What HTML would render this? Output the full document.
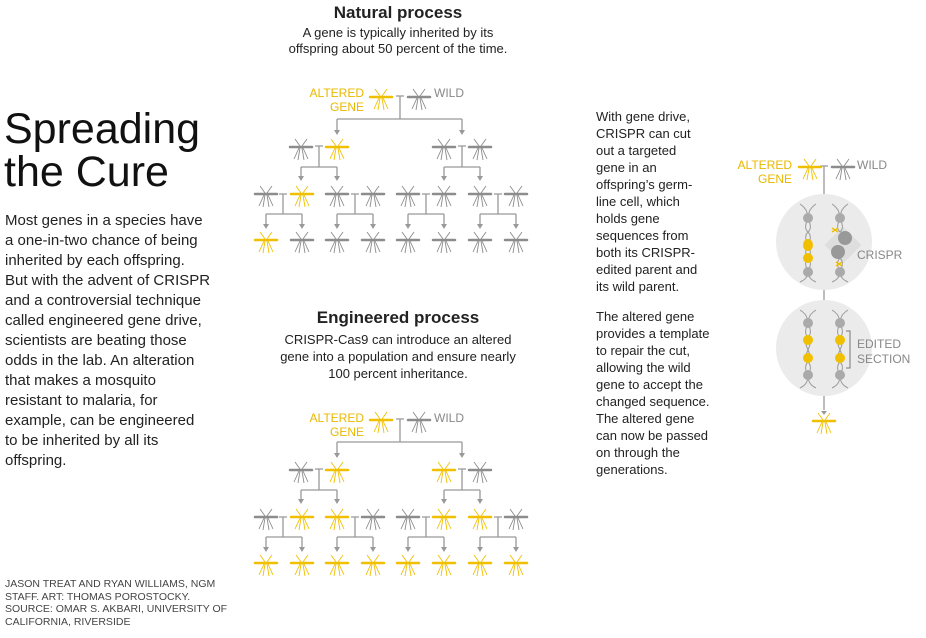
<!DOCTYPE html>
<html><head><meta charset="utf-8"><style>
html,body{margin:0;padding:0;background:#fff;}
body{width:926px;height:638px;overflow:hidden;position:relative;font-family:"Liberation Sans",sans-serif;color:#222;}
.t{position:absolute;}
</style></head><body>
<svg width="926" height="638" style="position:absolute;left:0;top:0" font-family="Liberation Sans, sans-serif">
<defs>
<g id="m">
 <path d="M-11 -1 L11 -1" stroke-width="2.5" stroke-linecap="round"/>
 <path d="M-1 -2 L-6 -9 M1 -2 L6 -9 M-2 0 L-7 11 M2 0 L7 11 M-1 0 L-3 12 M1 0 L3 12" stroke-width="0.9" fill="none"/>
</g>
<g id="g"><use href="#m" stroke="#8c8c8c"/></g>
<g id="y"><use href="#m" stroke="#f0c000"/></g>
</defs>

<!-- Natural tree -->
<g stroke="#999" stroke-width="1.3" fill="none">
 <path d="M396 96 H404 M400 96 V119 M337 119 H462 M337 119 V132 M462 119 V132"/>
 <path d="M315 146 H323 M319 146 V167 M301 167 H337 M301 167 V178 M337 167 V178"/>
 <path d="M458 146 H466 M462 146 V167 M444 167 H480 M444 167 V178 M480 167 V178"/>
 <path d="M279 194 H287 M283 194 V214 M266 214 H302 M266 214 V226 M302 214 V226"/>
 <path d="M351 194 H359 M355 194 V214 M337 214 H373 M337 214 V226 M373 214 V226"/>
 <path d="M422 194 H430 M426 194 V214 M408 214 H444 M408 214 V226 M444 214 V226"/>
 <path d="M494 194 H502 M498 194 V214 M480 214 H516 M480 214 V226 M516 214 V226"/>
</g>
<use href="#y" x="381" y="98"/><use href="#g" x="419" y="98"/>
<use href="#g" x="301" y="148"/><use href="#y" x="337" y="148"/><use href="#g" x="444" y="148"/><use href="#g" x="480" y="148"/>
<use href="#g" x="266" y="195"/><use href="#y" x="302" y="195"/><use href="#g" x="337" y="195"/><use href="#g" x="373" y="195"/><use href="#g" x="408" y="195"/><use href="#g" x="444" y="195"/><use href="#g" x="480" y="195"/><use href="#g" x="516" y="195"/>
<use href="#y" x="266" y="241"/><use href="#g" x="302" y="241"/><use href="#g" x="337" y="241"/><use href="#g" x="373" y="241"/><use href="#g" x="408" y="241"/><use href="#g" x="444" y="241"/><use href="#g" x="480" y="241"/><use href="#g" x="516" y="241"/>

<!-- Engineered tree -->
<g transform="translate(0,323)">
<g stroke="#999" stroke-width="1.3" fill="none">
 <path d="M396 96 H404 M400 96 V119 M337 119 H462 M337 119 V132 M462 119 V132"/>
 <path d="M315 146 H323 M319 146 V167 M301 167 H337 M301 167 V178 M337 167 V178"/>
 <path d="M458 146 H466 M462 146 V167 M444 167 H480 M444 167 V178 M480 167 V178"/>
 <path d="M279 194 H287 M283 194 V214 M266 214 H302 M266 214 V226 M302 214 V226"/>
 <path d="M351 194 H359 M355 194 V214 M337 214 H373 M337 214 V226 M373 214 V226"/>
 <path d="M422 194 H430 M426 194 V214 M408 214 H444 M408 214 V226 M444 214 V226"/>
 <path d="M494 194 H502 M498 194 V214 M480 214 H516 M480 214 V226 M516 214 V226"/>
</g>
<use href="#y" x="381" y="98"/><use href="#g" x="419" y="98"/>
<use href="#g" x="301" y="148"/><use href="#y" x="337" y="148"/><use href="#y" x="444" y="148"/><use href="#g" x="480" y="148"/>
<use href="#g" x="266" y="195"/><use href="#y" x="302" y="195"/><use href="#y" x="337" y="195"/><use href="#g" x="373" y="195"/><use href="#g" x="408" y="195"/><use href="#y" x="444" y="195"/><use href="#y" x="480" y="195"/><use href="#g" x="516" y="195"/>
<use href="#y" x="266" y="241"/><use href="#y" x="302" y="241"/><use href="#y" x="337" y="241"/><use href="#y" x="373" y="241"/><use href="#y" x="408" y="241"/><use href="#y" x="444" y="241"/><use href="#y" x="480" y="241"/><use href="#y" x="516" y="241"/>
</g>

<!-- arrowheads for trees -->
<g fill="#999">
<path d="M334 130 L337 135 L340 130z M459 130 L462 135 L465 130z M298 176 L301 181 L304 176z M334 176 L337 181 L340 176z M441 176 L444 181 L447 176z M477 176 L480 181 L483 176z M263 224 L266 229 L269 224z M299 224 L302 229 L305 224z M334 224 L337 229 L340 224z M370 224 L373 229 L376 224z M405 224 L408 229 L411 224z M441 224 L444 229 L447 224z M477 224 L480 229 L483 224z M513 224 L516 229 L519 224z"/>
<path transform="translate(0,323)" d="M334 130 L337 135 L340 130z M459 130 L462 135 L465 130z M298 176 L301 181 L304 176z M334 176 L337 181 L340 176z M441 176 L444 181 L447 176z M477 176 L480 181 L483 176z M263 224 L266 229 L269 224z M299 224 L302 229 L305 224z M334 224 L337 229 L340 224z M370 224 L373 229 L376 224z M405 224 L408 229 L411 224z M441 224 L444 229 L447 224z M477 224 L480 229 L483 224z M513 224 L516 229 L519 224z"/>
</g>

<!-- right panel -->
<g stroke="#999" stroke-width="1.3" fill="none">
 <path d="M820 166 H828 M824 166 V196 M824 290 V302 M824 396 V410"/>
</g>
<use href="#y" x="810" y="168"/><use href="#g" x="843" y="168"/>
<circle cx="824" cy="242" r="48" fill="#ebebeb"/>
<circle cx="824" cy="348" r="48" fill="#ebebeb"/>
<rect x="830" y="232" width="26" height="26" fill="#dedede" transform="rotate(45 843 245)"/>
<g fill="none" stroke="#999" stroke-width="1">
 <path d="M800 204 C816 215,800 225,808 232 C816 240,800 250,808 258 C816 266,800 275,816 282"/>
 <path d="M816 204 C800 215,816 225,808 232 C800 240,816 250,808 258 C800 266,816 275,800 282"/>
 <path d="M832 204 C848 215,832 225,840 232 M840 258 C848 266,832 275,848 282"/>
 <path d="M848 204 C832 215,848 225,840 232 M840 258 C832 266,848 275,832 282"/>
 <path d="M800 310 C816 320,800 330,808 337 C816 345,800 355,808 362 C816 370,800 380,816 388"/>
 <path d="M816 310 C800 320,816 330,808 337 C800 345,816 355,808 362 C800 370,816 380,800 388"/>
 <path d="M832 310 C848 320,832 330,840 337 C848 345,832 355,840 362 C848 370,832 380,848 388"/>
 <path d="M848 310 C832 320,848 330,840 337 C832 345,848 355,840 362 C832 370,848 380,832 388"/>
 <path d="M846 331 H850 V368 H846" stroke="#777"/>
</g>
<g>
 <ellipse cx="808" cy="218" rx="5" ry="5" fill="#aaa"/><ellipse cx="808" cy="245" rx="5" ry="6" fill="#f0c000"/><ellipse cx="808" cy="258" rx="5" ry="5" fill="#f0c000"/><ellipse cx="808" cy="272" rx="5" ry="5" fill="#aaa"/>
 <ellipse cx="840" cy="218" rx="5" ry="5" fill="#aaa"/><circle cx="845" cy="238" r="7" fill="#999"/><circle cx="838" cy="252" r="7" fill="#999"/><ellipse cx="840" cy="272" rx="5" ry="5" fill="#aaa"/>
 <path d="M832 228 l6 4 M832 232 l6 -4 M836 262 l6 4 M836 266 l6 -4" stroke="#f0c000" stroke-width="1.5"/>
 <ellipse cx="808" cy="323" rx="5" ry="5" fill="#aaa"/><ellipse cx="808" cy="340" rx="5" ry="5" fill="#f0c000"/><ellipse cx="808" cy="358" rx="5" ry="5" fill="#f0c000"/><ellipse cx="808" cy="375" rx="5" ry="5" fill="#aaa"/>
 <ellipse cx="840" cy="323" rx="5" ry="5" fill="#aaa"/><ellipse cx="840" cy="340" rx="5" ry="5" fill="#f0c000"/><ellipse cx="840" cy="358" rx="5" ry="5" fill="#f0c000"/><ellipse cx="840" cy="375" rx="5" ry="5" fill="#aaa"/>
</g>
<path d="M821 411 L824 415 L827 411z" fill="#999"/>
<use href="#y" x="824" y="422"/>

<!-- labels -->
<g font-size="12" text-anchor="end" fill="#e8b800">
 <text x="364" y="97">ALTERED</text><text x="364" y="111">GENE</text>
 <text x="364" y="422">ALTERED</text><text x="364" y="436">GENE</text>
 <text x="792" y="169">ALTERED</text><text x="792" y="183">GENE</text>
</g>
<g font-size="12" fill="#888">
 <text x="434" y="97">WILD</text><text x="434" y="422">WILD</text><text x="857" y="169">WILD</text>
 <text x="857" y="259">CRISPR</text>
 <text x="857" y="348">EDITED</text><text x="857" y="363">SECTION</text>
</g>
</svg>

<div class="t" style="left:4px;top:108px;font-size:43px;line-height:43px;color:#111;">Spreading<br>the Cure</div>
<div class="t" style="left:5px;top:211px;width:240px;font-size:15px;line-height:20px;color:#222;white-space:nowrap;">Most genes in a species have<br>a one-in-two chance of being<br>inherited by each offspring.<br>But with the advent of CRISPR<br>and a controversial technique<br>called engineered gene drive,<br>scientists are beating those<br>odds in the lab. An alteration<br>that makes a mosquito<br>resistant to malaria, for<br>example, can be engineered<br>to be inherited by all its<br>offspring.</div>
<div class="t" style="left:5px;top:578px;width:240px;font-size:10.5px;line-height:12.5px;color:#444;white-space:nowrap;">JASON TREAT AND RYAN WILLIAMS, NGM<br>STAFF. ART: THOMAS POROSTOCKY.<br>SOURCE: OMAR S. AKBARI, UNIVERSITY OF<br>CALIFORNIA, RIVERSIDE</div>

<div class="t" style="left:248px;top:3px;width:300px;text-align:center;font-size:17px;font-weight:bold;color:#222;">Natural process</div>
<div class="t" style="left:248px;top:25px;width:300px;text-align:center;font-size:13px;line-height:16px;color:#222;">A gene is typically inherited by its<br>offspring about 50 percent of the time.</div>
<div class="t" style="left:248px;top:308px;width:300px;text-align:center;font-size:17px;font-weight:bold;color:#222;">Engineered process</div>
<div class="t" style="left:248px;top:331px;width:300px;text-align:center;font-size:13px;line-height:17px;color:#222;">CRISPR-Cas9 can introduce an altered<br>gene into a population and ensure nearly<br>100 percent inheritance.</div>

<div class="t" style="left:596px;top:108px;width:130px;font-size:13px;line-height:17px;color:#222;white-space:nowrap;">With gene drive,<br>CRISPR can cut<br>out a targeted<br>gene in an<br>offspring’s germ-<br>line cell, which<br>holds gene<br>sequences from<br>both its CRISPR-<br>edited parent and<br>its wild parent.</div>
<div class="t" style="left:596px;top:308px;width:130px;font-size:13px;line-height:17px;color:#222;white-space:nowrap;">The altered gene<br>provides a template<br>to repair the cut,<br>allowing the wild<br>gene to accept the<br>changed sequence.<br>The altered gene<br>can now be passed<br>on through the<br>generations.</div>
</body></html>
